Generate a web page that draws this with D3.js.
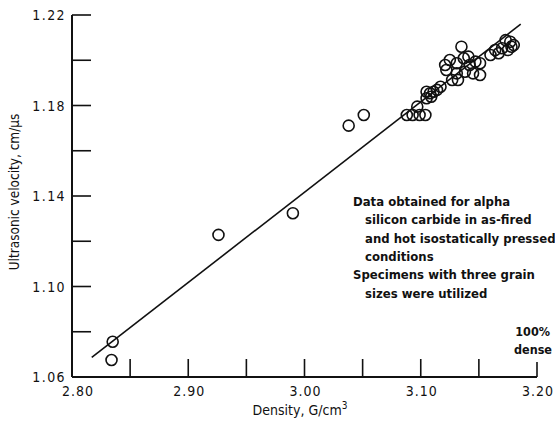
<!DOCTYPE html>
<html>
<head>
<meta charset="utf-8">
<script src="https://cdn.jsdelivr.net/npm/d3@7"></script>
<style>
  html, body { margin: 0; padding: 0; background: #fff; }
  svg { display: block; }
  text { font-family: "DejaVu Sans Condensed", "DejaVu Sans", sans-serif; font-stretch: condensed; fill: #111; }
</style>
</head>
<body>
<svg id="chart" width="555" height="421"></svg>
<script>
// Measured specimens: density (g/cm^3) and ultrasonic velocity (cm/us)
const density = [
  2.835, 2.834, 2.926, 2.990, 3.038, 3.051,
  3.088, 3.093, 3.099, 3.104, 3.097,
  3.105, 3.108, 3.111, 3.114, 3.117, 3.105, 3.109,
  3.121, 3.125, 3.131, 3.135, 3.137, 3.141, 3.147, 3.151,
  3.131, 3.138, 3.145, 3.151, 3.127, 3.132, 3.122, 3.142,
  3.160, 3.164, 3.167, 3.170, 3.173, 3.177, 3.178, 3.175, 3.180
];
const velocity = [
  1.0756, 1.0675, 1.1228, 1.1324, 1.1711, 1.1758,
  1.1758, 1.1758, 1.1758, 1.1758, 1.1795,
  1.1832, 1.1854, 1.1861, 1.1869, 1.1883, 1.1861, 1.1839,
  1.1979, 1.2001, 1.1987, 1.2060, 1.2009, 1.2016, 1.1994, 1.1987,
  1.1942, 1.1949, 1.1942, 1.1935, 1.1913, 1.1913, 1.1957, 1.1979,
  1.2023, 1.2045, 1.2031, 1.2053, 1.2089, 1.2082, 1.2060, 1.2045, 1.2067
];

// Least-squares line: velocity = fitIntercept + fitSlope * density
const fitIntercept = -0.0559;
const fitSlope = 0.3992;
const fitRange = [2.817, 3.186];

// Axis ticks
const xTicks = [2.85, 2.90, 2.95, 3.00, 3.05, 3.10, 3.15, 3.20];
const xLabels = [2.80, 2.90, 3.00, 3.10, 3.20];
const yTicks = [1.08, 1.10, 1.12, 1.14, 1.16, 1.18, 1.20, 1.22];
const yLabels = [1.06, 1.10, 1.14, 1.18, 1.22];

const noteLines = [
  "Data obtained for alpha",
  "silicon carbide in as-fired",
  "and hot isostatically pressed",
  "conditions",
  "Specimens with three grain",
  "sizes were utilized"
];
const noteIndent = [0, 1, 1, 1, 0, 1];

const svg = d3.select("#chart");
const x = d3.scaleLinear().domain([2.80, 3.20]).range([72, 537]);
const y = d3.scaleLinear().domain([1.06, 1.22]).range([377, 15]);

// Axis lines
svg.append("line").attr("x1", x(2.80)).attr("x2", x(2.80)).attr("y1", y(1.06)).attr("y2", y(1.22))
  .attr("stroke", "#111").attr("stroke-width", 2);
svg.append("line").attr("x1", x(2.80)).attr("x2", x(3.20)).attr("y1", y(1.06)).attr("y2", y(1.06))
  .attr("stroke", "#111").attr("stroke-width", 2);

// Inward ticks
svg.append("g").selectAll("line").data(yTicks).join("line")
  .attr("x1", x(2.80)).attr("x2", x(2.80) + 19)
  .attr("y1", d => y(d)).attr("y2", d => y(d))
  .attr("stroke", "#111").attr("stroke-width", 1.6);
svg.append("g").selectAll("line").data(xTicks).join("line")
  .attr("x1", d => x(d)).attr("x2", d => x(d))
  .attr("y1", y(1.06)).attr("y2", d => y(1.06) - (d === 3.20 ? 15 : 18))
  .attr("stroke", "#111").attr("stroke-width", 1.6);

// Tick labels
svg.append("g").selectAll("text").data(yLabels).join("text")
  .attr("x", x(2.80) - 6).attr("y", d => y(d)).attr("dy", "0.36em")
  .attr("text-anchor", "end").attr("font-size", 14).attr("letter-spacing", 1.4)
  .text(d => d.toFixed(2));
svg.append("g").selectAll("text").data(xLabels).join("text")
  .attr("x", d => x(d) + (d === 2.80 ? 6 : 1)).attr("y", 396)
  .attr("text-anchor", "middle").attr("font-size", 14).attr("letter-spacing", 1)
  .text(d => d.toFixed(2));

// Axis titles
const xt = svg.append("text").attr("x", 300).attr("y", 415).attr("text-anchor", "middle").attr("font-size", 14);
xt.append("tspan").text("Density, G/cm");
xt.append("tspan").attr("dy", -6).attr("font-size", 10).text("3");
svg.append("text")
  .attr("transform", `translate(19,192) rotate(-90)`)
  .attr("text-anchor", "middle").attr("font-size", 13.5)
  .text("Ultrasonic velocity, cm/\u00b5s");

// Fit line
svg.append("line")
  .attr("x1", x(fitRange[0])).attr("y1", y(fitIntercept + fitSlope * fitRange[0]))
  .attr("x2", x(fitRange[1])).attr("y2", y(fitIntercept + fitSlope * fitRange[1]))
  .attr("stroke", "#111").attr("stroke-width", 1.6);

// Specimens
svg.append("g").selectAll("circle").data(density).join("circle")
  .attr("cx", d => x(d)).attr("cy", (d, i) => y(velocity[i])).attr("r", 5.5)
  .attr("fill", "none").attr("stroke", "#111").attr("stroke-width", 1.6);

// Notes
svg.append("g").selectAll("text").data(noteLines).join("text")
  .attr("x", (d, i) => 353 + noteIndent[i] * 12).attr("y", (d, i) => 206 + i * 18.3)
  .attr("font-size", 13).attr("font-weight", "bold")
  .text(d => d);
svg.append("text").attr("x", 550).attr("y", 336).attr("text-anchor", "end")
  .attr("font-size", 12.5).attr("font-weight", "bold").text("100%");
svg.append("text").attr("x", 552).attr("y", 354).attr("text-anchor", "end")
  .attr("font-size", 12.5).attr("font-weight", "bold").text("dense");
</script>
</body>
</html>
